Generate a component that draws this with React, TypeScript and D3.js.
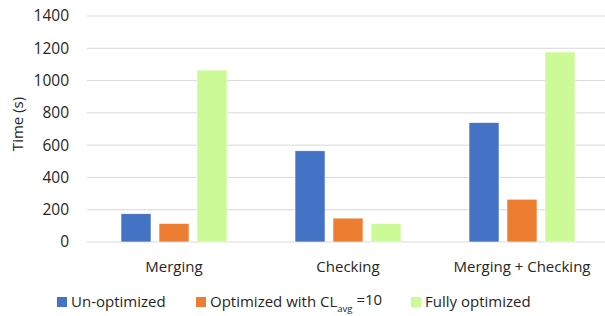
import { useEffect, useRef } from "react";
import * as d3 from "d3";

const categories = ["Merging", "Checking", "Merging + Checking"];
const seriesNames = ["Un-optimized", "Optimized with CL", "Fully optimized"];
const unOptimized = [175, 565, 740];
const optimizedCL = [115, 148, 265];
const fullyOptimized = [1065, 113, 1177];
const yTicks = [0, 200, 400, 600, 800, 1000, 1200, 1400];
const colors = ["#4472C4", "#ED7D31", "#CCFA96"];

const App = () => {
  const chartRef = useRef<SVGSVGElement>(null);

  useEffect(() => {
    const width = 605;
    const height = 316;
    const margin = { top: 16, right: -4, bottom: 74, left: 87 };
    const font = "'Open Sans', sans-serif";
    const textColor = "#262626";

    const svg = d3.select(chartRef.current);
    svg.selectAll("*").remove();

    const series = [unOptimized, optimizedCL, fullyOptimized];

    const x0 = d3.scaleBand()
      .domain(categories)
      .range([margin.left, width - margin.right])
      .paddingInner(0)
      .paddingOuter(0);

    const x1 = d3.scaleBand()
      .domain(seriesNames)
      .range([0, x0.bandwidth()])
      .paddingInner(0.21)
      .paddingOuter(0.895);

    const y = d3.scaleLinear()
      .domain([0, 1400])
      .range([height - margin.bottom, margin.top]);

    // gridlines
    svg.append("g")
      .selectAll("line")
      .data(yTicks)
      .enter()
      .append("line")
      .attr("x1", margin.left)
      .attr("x2", width)
      .attr("y1", d => y(d))
      .attr("y2", d => y(d))
      .attr("stroke", "#D9D9D9")
      .attr("stroke-width", 1);

    // y tick labels
    svg.append("g")
      .selectAll("text")
      .data(yTicks)
      .enter()
      .append("text")
      .attr("x", 69)
      .attr("y", d => y(d))
      .attr("dy", "0.35em")
      .attr("text-anchor", "end")
      .attr("font-family", font)
      .attr("font-size", 15.5)
      .attr("fill", textColor)
      .text(d => d);

    // bars
    series.forEach((vals, si) => {
      svg.append("g")
        .selectAll("rect")
        .data(vals)
        .enter()
        .append("rect")
        .attr("x", (_, i) => x0(categories[i])! + x1(seriesNames[si])!)
        .attr("y", d => y(d))
        .attr("width", x1.bandwidth())
        .attr("height", d => y(0) - y(d))
        .attr("fill", colors[si])
        .attr("stroke", "#ffffff")
        .attr("stroke-width", 0.6);
    });

    // category labels
    svg.append("g")
      .selectAll("text")
      .data(categories)
      .enter()
      .append("text")
      .attr("x", d => x0(d)! + x0.bandwidth() / 2)
      .attr("y", 267)
      .attr("dy", "0.35em")
      .attr("text-anchor", "middle")
      .attr("font-family", font)
      .attr("font-size", 15)
      .attr("fill", textColor)
      .text(d => d);

    // y axis title
    svg.append("text")
      .attr("transform", `translate(23,124) rotate(-90)`)
      .attr("text-anchor", "middle")
      .attr("font-family", font)
      .attr("font-size", 15)
      .attr("fill", textColor)
      .text("Time (s)");

    // legend
    const legendX = [57, 196, 411];
    const legend = svg.append("g");
    seriesNames.forEach((name, i) => {
      legend.append("rect")
        .attr("x", legendX[i])
        .attr("y", 297)
        .attr("width", 10)
        .attr("height", 10)
        .attr("fill", colors[i]);
      const t = legend.append("text")
        .attr("x", legendX[i] + 14)
        .attr("y", 302)
        .attr("dy", "0.35em")
        .attr("font-family", font)
        .attr("font-size", 15)
        .attr("fill", textColor)
        .text(name);
      if (i === 1) {
        t.append("tspan")
          .attr("font-size", 9.5)
          .attr("dy", "0.45em")
          .text("avg");
        t.append("tspan")
          .attr("dy", "-0.45em")
          .text(" =10");
      }
    });
  }, []);

  return (
    <svg
      ref={chartRef}
      width={605}
      height={316}
      style={{ position: "absolute", left: 0, top: 0, background: "#fff" }}
    />
  );
};

export default App;
